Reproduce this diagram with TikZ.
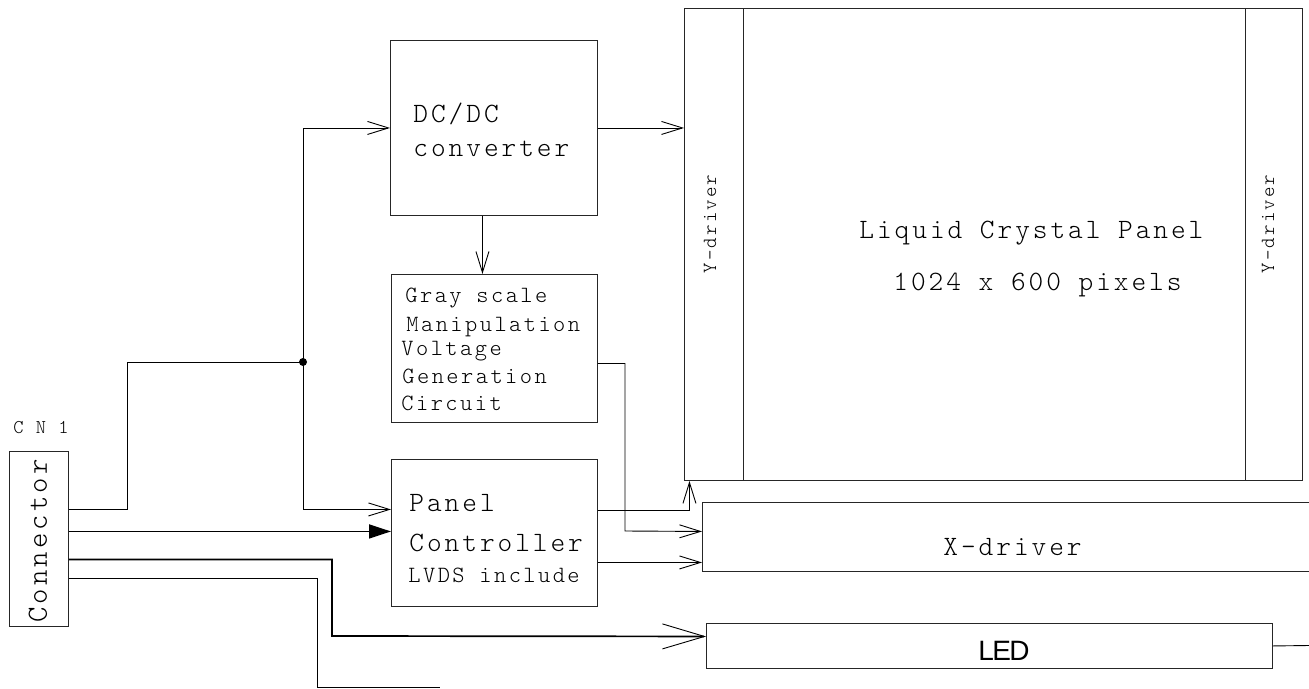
\documentclass[tikz,border=0pt]{standalone}
\usepackage{fontspec}
\newfontfamily\courfont{Latin Modern Mono Light}[LetterSpace=10.5]
\newfontfamily\arialfont{Liberation Sans}
\usetikzlibrary{arrows.meta}

\begin{document}
\begin{tikzpicture}
  [x=1pt,y=-1pt,line width=0.9pt,
   box/.style={draw=black!85,rectangle,inner sep=0pt,anchor=north west},
   txt/.style={inner sep=0pt,anchor=base west,font=\courfont\fontsize{28}{30}\selectfont},
   small/.style={txt,font=\courfont\fontsize{23.3}{25}\selectfont},
   thickline/.style={line width=1.7pt},
   open/.style={-{Straight Barb[length=21pt,width=13pt,line width=0.9pt]}},
   bigopen/.style={-{Straight Barb[length=42pt,width=25pt,line width=0.9pt]}},
   solidtip/.style={-{Triangle[length=22pt,width=14pt]}}]
  \useasboundingbox (0,0) rectangle (1309,688);
  % boxes
  \node[box,minimum width=59pt,minimum height=175pt] (cn) at (9,451) {};
  \node[box,minimum width=207pt,minimum height=175pt] (dcdc) at (390,40) {};
  \node[box,minimum width=206pt,minimum height=148pt] (gray) at (391,274) {};
  \node[box,minimum width=206pt,minimum height=147pt] (pc) at (391,459) {};
  \node[box,minimum width=618pt,minimum height=472pt] (lcd) at (684,8) {};
  \node[box,minimum width=615pt,minimum height=69pt] (xdrv) at (702,502) {};
  \node[box,minimum width=566pt,minimum height=45pt] (led) at (706,623) {};
  \draw[draw=black!85] ([xshift=-250pt]lcd.north) -- ([xshift=-250pt]lcd.south);
  \draw[draw=black!85] ([xshift=252pt]lcd.north) -- ([xshift=252pt]lcd.south);
  % texts
  \node[txt,font=\courfont\fontsize{19.5}{21}\selectfont] (cnlabel) at (13,433) {C N 1};
  \node[inner sep=0pt,rotate=90,font=\courfont\fontsize{29.3}{31}\selectfont] (cntxt) at (38,541) {Connector};
  \node[txt] (dctxt) at (413,122) {DC/DC};
  \node[txt] (convtxt) at (413,156) {converter};
  \foreach \t/\x/\y [count=\i] in {Gray scale/405/302,Manipulation/406/331,Voltage/401/355,Generation/402/383,Circuit/401/410}
    \node[small] (gline\i) at (\x,\y) {\t};
  \node[txt] (pctxt) at (409,511) {Panel};
  \node[txt] (ctrltxt) at (409,551) {Controller};
  \node[small] (lvdstxt) at (408,582) {LVDS include};
  \node[txt] (lcdtxt) at (859,238) {Liquid Crystal Panel};
  \node[txt] (pixtxt) at (893,290) {1024 x 600 pixels};
  \node[inner sep=0pt,rotate=90,font=\courfont\fontsize{20}{22}\selectfont] (ylefttxt) at (710,224) {Y-driver};
  \node[inner sep=0pt,rotate=90,font=\courfont\fontsize{20}{22}\selectfont] (yrighttxt) at (1268,224) {Y-driver};
  \node[txt] (xtxt) at (943,555) {X-driver};
  \node[inner sep=0pt,font=\arialfont\fontsize{28}{30}\selectfont] (ledtxt) at (1004,651) {\addfontfeature{LetterSpace=-6}LED};
  % connectors
  \coordinate (jn) at (303,362);
  \coordinate (tailend) at (440,687);
  \coordinate (ledend) at (1309,645.5);
  \draw ([yshift=29.5pt]cn.east) -| (127,362) -- (jn);
  \fill (jn) circle (4pt);
  \draw[open] (jn) |- (dcdc.west);
  \draw[open] (jn) |- ([yshift=23.5pt]pc.west);
  \draw[thickline,solidtip] ([yshift=7.5pt]cn.east) -- ([yshift=1.5pt]pc.west);
  \draw[thickline,bigopen] ([yshift=-20.5pt]cn.east) -| (332,636) -- ([yshift=9.5pt]led.west);
  \draw ([yshift=-39.5pt]cn.east) -| (317,687) -- (tailend);
  \draw[open] (dcdc.east) -- (dcdc.east -| lcd.west);
  \draw[open] ([xshift=-11.5pt]dcdc.south) -- ([xshift=-11.5pt]dcdc.south |- gray.north);
  \draw[open] ([yshift=-15pt]gray.east) -| (625,531) -- ([yshift=5.5pt]xdrv.west);
  \draw[thickline,open] ([yshift=22.5pt]pc.east) -| ([xshift=-304pt]lcd.south);
  \draw[thickline,open] ([yshift=-29.5pt]pc.east) -- ([yshift=-25.5pt]xdrv.west);
  \draw (led.east) -- (ledend);
\end{tikzpicture}
\end{document}
